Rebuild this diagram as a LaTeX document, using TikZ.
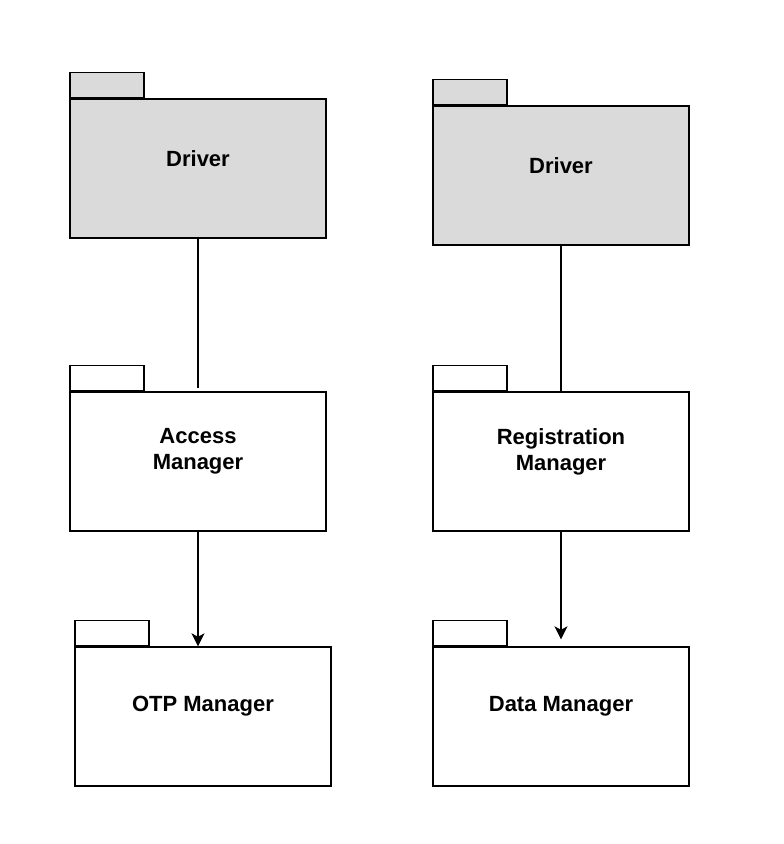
\documentclass[tikz,border=0pt]{standalone}
\usepackage{fontspec}
\setmainfont{Liberation Sans}
\usetikzlibrary{arrows.meta,calc}
\definecolor{pkgfill}{RGB}{218,218,218}
\tikzset{
    pkgbody/.style={draw=black, line width=1.4pt, minimum width=256pt, minimum height=139pt, inner sep=0pt},
    pkgtab/.style={draw=black, line width=1.4pt, minimum width=74pt, minimum height=25pt, inner sep=0pt, anchor=south west},
    pkgtext/.style={align=center, font=\fontsize{22}{26}\selectfont\bfseries},
    dep/.style={line width=1.3pt, -{Stealth[length=13pt 0,width=13pt 0,inset=3.5pt 0]}}
}
\begin{document}
\begin{tikzpicture}[x=1pt, y=-1pt]
                        \useasboundingbox (0,0) rectangle (784,844);
                        % left column
                        \node[pkgbody, fill=pkgfill] (drvL) at (198,168.5) {};
                        \node[pkgtab, fill=pkgfill] (drvLtab) at (drvL.north west) {};
                        \node[pkgtext] (drvLtxt) at ($(drvL.center)+(0,-10)$) {Driver};
                        \node[pkgbody] (accMgr) at (198,461.5) {};
                        \node[pkgtab] (accMgrtab) at (accMgr.north west) {};
                        \node[pkgtext] (accMgrtxt) at ($(accMgr.center)+(0,-10)$) {Access\\Manager};
                        \node[pkgbody] (otpMgr) at (203,716.5) {};
                        \node[pkgtab] (otpMgrtab) at (otpMgr.north west) {};
                        \node[pkgtext] (otpMgrtxt) at ($(otpMgr.center)+(0,-10)$) {OTP Manager};
                        % right column
                        \node[pkgbody, fill=pkgfill] (drvR) at (561,175.5) {};
                        \node[pkgtab, fill=pkgfill] (drvRtab) at (drvR.north west) {};
                        \node[pkgtext] (drvRtxt) at ($(drvR.center)+(0,-10)$) {Driver};
                        \node[pkgbody] (regMgr) at (561,461.5) {};
                        \node[pkgtab] (regMgrtab) at (regMgr.north west) {};
                        \node[pkgtext] (regMgrtxt) at ($(regMgr.center)+(0,-10)$) {Registration\\Manager};
                        \node[pkgbody] (dataMgr) at (561,716.5) {};
                        \node[pkgtab] (dataMgrtab) at (dataMgr.north west) {};
                        \node[pkgtext] (dataMgrtxt) at ($(dataMgr.center)+(0,-10)$) {Data Manager};
                        % connectors
                        \draw[line width=1.3pt, shorten >=3pt] (drvL.south) -- (accMgr.north);
                        \draw[dep] (accMgr.south) -- (accMgr.south |- otpMgr.north);
                        \draw[line width=1.3pt] (drvR.south) -- (regMgr.north);
                        \draw[dep, shorten >=7pt] (regMgr.south) -- (dataMgr.north);
                    \end{tikzpicture}
\end{document}
